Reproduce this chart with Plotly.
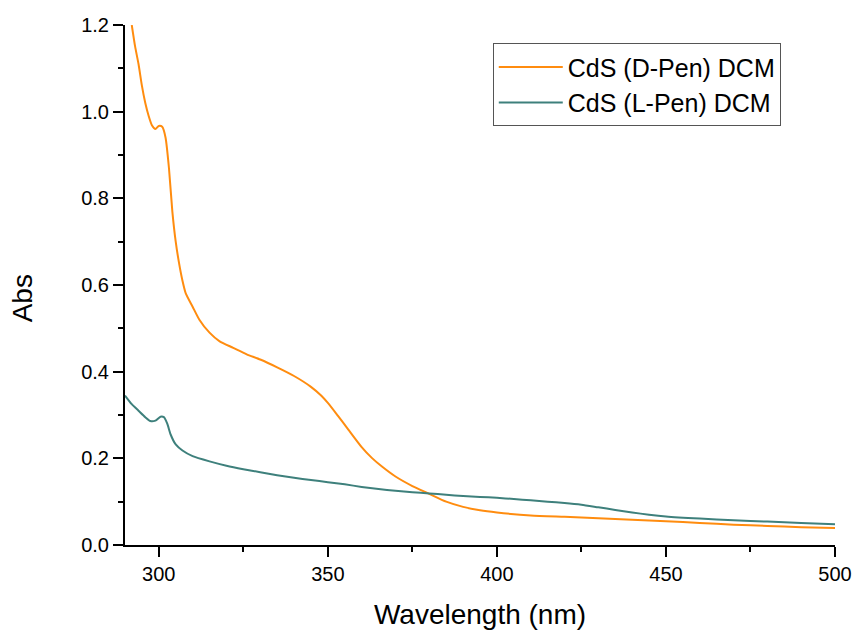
import plotly.graph_objects as go

# UV-Vis absorption spectra of CdS nanoparticles in DCM
wl_d = [292, 293, 294, 295, 296, 297, 298, 299, 300, 301, 302, 303, 304, 305,
        306, 307, 308, 310, 312, 315, 318, 322, 326, 330, 335, 340, 345, 348,
        350, 353, 356, 360, 363, 366, 370, 375, 380, 385, 390, 395, 400, 410,
        420, 430, 440, 450, 460, 470, 480, 490, 500]
abs_d = [1.20, 1.15, 1.11, 1.06, 1.02, 0.99, 0.968, 0.960, 0.967, 0.965, 0.94,
         0.87, 0.77, 0.70, 0.65, 0.61, 0.58, 0.55, 0.52, 0.49, 0.47, 0.455,
         0.44, 0.428, 0.41, 0.39, 0.365, 0.345, 0.328, 0.298, 0.267, 0.226,
         0.201, 0.181, 0.158, 0.136, 0.118, 0.100, 0.088, 0.080, 0.075, 0.068,
         0.065, 0.062, 0.058, 0.055, 0.051, 0.047, 0.044, 0.041, 0.039]

wl_l = [290, 292, 294, 296, 297.5, 299, 300.5, 301.5, 302.5, 303.5, 305, 307,
        310, 315, 320, 325, 330, 335, 340, 345, 350, 355, 360, 365, 370, 375,
        380, 385, 390, 395, 400, 405, 410, 415, 420, 425, 430, 435, 440, 445,
        450, 460, 470, 480, 490, 500]
abs_l = [0.345, 0.325, 0.31, 0.295, 0.286, 0.287, 0.296, 0.295, 0.28, 0.255,
         0.232, 0.218, 0.205, 0.193, 0.183, 0.175, 0.168, 0.161, 0.155, 0.150,
         0.145, 0.140, 0.134, 0.129, 0.125, 0.122, 0.119, 0.116, 0.113, 0.111,
         0.109, 0.106, 0.103, 0.100, 0.097, 0.093, 0.087, 0.081, 0.075, 0.070,
         0.066, 0.061, 0.057, 0.054, 0.051, 0.048]

name_d = "CdS (D-Pen) DCM"
name_l = "CdS (L-Pen) DCM"
x_ticks = [300, 350, 400, 450, 500]
y_ticks = [0.0, 0.2, 0.4, 0.6, 0.8, 1.0, 1.2]
x_title = "Wavelength (nm)"
y_title = "Abs"

FONT = "Liberation Sans, Arial, sans-serif"

fig = go.Figure()
fig.add_trace(go.Scatter(x=wl_d, y=abs_d, mode="lines", name=name_d,
                         line=dict(color="#FF8C0F", width=2, shape="spline",
                                   smoothing=0.6)))
fig.add_trace(go.Scatter(x=wl_l, y=abs_l, mode="lines", name=name_l,
                         line=dict(color="#3E807C", width=2, shape="spline",
                                   smoothing=0.6)))

axis_common = dict(
    automargin=False,
    showgrid=False, zeroline=False, showline=True, linecolor="black",
    linewidth=2, ticks="outside", ticklen=10, tickwidth=2, tickcolor="black",
    tickfont=dict(family=FONT, size=20, color="black"),
    minor=dict(ticks="outside", ticklen=5, tickwidth=2, tickcolor="black"),
)

fig.update_xaxes(range=[290, 500], tickvals=x_ticks,
                 ticktext=[str(v) for v in x_ticks],
                 minor_dtick=25, minor_tick0=0,
                 title=dict(text=x_title, standoff=22,
                            font=dict(family=FONT, size=28, color="black")),
                 **axis_common)
fig.update_yaxes(range=[0, 1.2], tickvals=y_ticks,
                 ticktext=[f"{v:.1f}" for v in y_ticks],
                 minor_dtick=0.1, minor_tick0=0,
                 **axis_common)

# y-axis title placed as a rotated annotation, sitting slightly below centre
fig.add_annotation(text=y_title, textangle=-90, showarrow=False,
                   xref="paper", yref="paper", x=-0.145, y=0.4745,
                   xanchor="center", yanchor="middle",
                   font=dict(family=FONT, size=28, color="black"))

fig.update_layout(
    width=855, height=630,
    margin=dict(l=125, r=20, t=25, b=85),
    plot_bgcolor="white", paper_bgcolor="white",
    font=dict(family=FONT, color="black"),
    legend=dict(x=0.518, y=0.965, xanchor="left", yanchor="top",
                bgcolor="white", bordercolor="#555555", borderwidth=1,
                font=dict(family=FONT, size=25, color="black"),
                itemwidth=64, tracegroupgap=0),
)

fig.write_html("out.html")
